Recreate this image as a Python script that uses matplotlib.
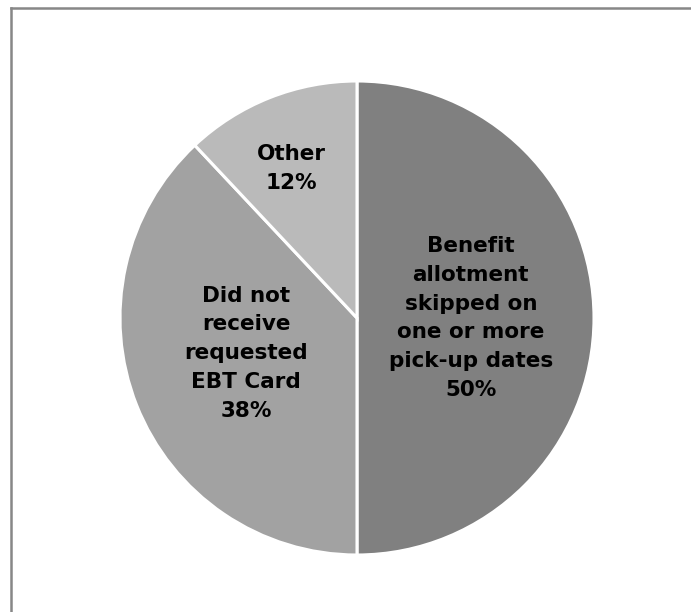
import numpy as np
import matplotlib.pyplot as plt
from matplotlib.lines import Line2D

labels = ['Benefit\nallotment\nskipped on\none or more\npick-up dates',
          'Did not\nreceive\nrequested\nEBT Card',
          'Other']
shares = [50, 38, 12]
colors = ['#808080', '#a2a2a2', '#bababa']
label_r = [0.48, 0.49, 0.69]

fig = plt.figure(figsize=(6.91, 6.12), dpi=100)
ax = fig.add_axes([(357 - 237) / 691, (612 - 318 - 237) / 612, 474 / 691, 474 / 612])

wedges, _ = ax.pie(shares, colors=colors, startangle=90, counterclock=False,
                   wedgeprops=dict(edgecolor='white', linewidth=2.2))
ax.set_xlim(-1, 1)
ax.set_ylim(-1, 1)
ax.set_aspect('equal')

# labels near each wedge's mid-angle (Did not slice nudged a bit higher)
angle_shift = [0, -4, 2]
for w, lab, val, r, da in zip(wedges, labels, shares, label_r, angle_shift):
    mid = np.deg2rad((w.theta1 + w.theta2) / 2 + da)
    ax.text(r * np.cos(mid), r * np.sin(mid), f'{lab}\n{val}%',
            ha='center', va='center', fontsize=15.5, fontweight='bold',
            linespacing=1.55, color='black')

# chart frame (top and left edges)
x0 = 11 / 691
y0 = 1 - 7.5 / 612
fig.add_artist(Line2D([x0, 1.01], [y0, y0], color='#878787', linewidth=1.8))
fig.add_artist(Line2D([x0, x0], [y0, -0.01], color='#878787', linewidth=1.8))

fig.savefig('out.png', dpi=100)
